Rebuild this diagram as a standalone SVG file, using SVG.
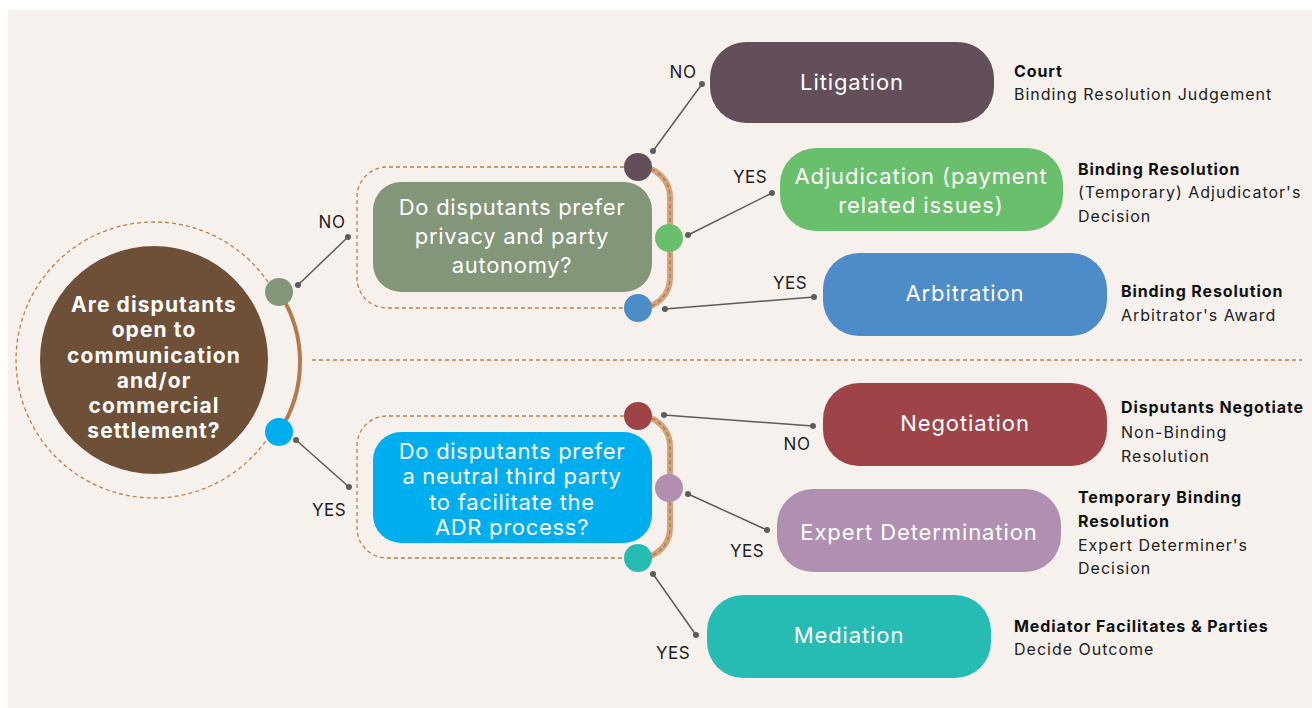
<svg xmlns="http://www.w3.org/2000/svg" width="1312" height="708" viewBox="0 0 1312 708">
<style>
text{font-family:Inter,"Open Sans","Liberation Sans",sans-serif}
.q{fill:#fff;font-size:22px;text-anchor:middle;letter-spacing:0.7px}
.m{fill:#fff;font-size:21px;font-weight:700;text-anchor:middle;letter-spacing:1.1px}
.b{fill:#fff;font-size:22px;text-anchor:middle;letter-spacing:0.9px}
.lab{fill:#1e1e1e;font-size:17px;letter-spacing:0.5px;text-anchor:middle}
.h{fill:#111;font-size:16px;font-weight:700;letter-spacing:0.9px}
.t{fill:#222;font-size:16px;letter-spacing:1px}
.dash{fill:none;stroke:#c47d48;stroke-width:1.3;stroke-dasharray:4 3}
.tan{fill:none;stroke:#d3a57c;stroke-width:6}
.tand{fill:none;stroke:#b9784a;stroke-width:1.5;stroke-dasharray:4 3}
.con{stroke:#5c5c5c;stroke-width:1.5;fill:none}
.dot{fill:#5c5c5c}
</style>
<rect x="0" y="0" width="1312" height="708" fill="#ffffff"/>
<rect x="8" y="10" width="1304" height="698" fill="#f6f1ed"/>

<g id="frames">
<path class="dash" d="M275.3,294.1 A138,138 0 1 0 275.3,425.9"/>
<path d="M279,292 A127,127 0 0 1 279,432" fill="none" stroke="#b5794c" stroke-width="4"/>
<line class="dash" x1="312" y1="360" x2="1302" y2="360"/>
<path class="dash" d="M638,167 H387 A30,30 0 0 0 357,197 V278 A30,30 0 0 0 387,308 H638"/>
<path class="tan" d="M638,167 H640 A30,30 0 0 1 670,197 V278 A30,30 0 0 1 640,308 H638"/>
<path class="tand" d="M638,167 H640 A30,30 0 0 1 670,197 V278 A30,30 0 0 1 640,308 H638"/>
<path class="dash" d="M638,416 H387 A30,30 0 0 0 357,446 V528 A30,30 0 0 0 387,558 H638"/>
<path class="tan" d="M638,416 H640 A30,30 0 0 1 670,446 V528 A30,30 0 0 1 640,558 H638"/>
<path class="tand" d="M638,416 H640 A30,30 0 0 1 670,446 V528 A30,30 0 0 1 640,558 H638"/>
</g>

<g id="connectors">
<line class="con" x1="298" y1="285" x2="348" y2="237"/><circle class="dot" cx="298" cy="285" r="3"/><circle class="dot" cx="348" cy="237" r="3"/>
<line class="con" x1="296" y1="440" x2="349" y2="487"/><circle class="dot" cx="296" cy="440" r="3"/><circle class="dot" cx="349" cy="487" r="3"/>
<line class="con" x1="653" y1="151" x2="702" y2="84"/><circle class="dot" cx="653" cy="151" r="3"/><circle class="dot" cx="702" cy="84" r="3"/>
<line class="con" x1="688" y1="235" x2="772" y2="193"/><circle class="dot" cx="688" cy="235" r="3"/><circle class="dot" cx="772" cy="193" r="3"/>
<line class="con" x1="665" y1="309" x2="814" y2="297"/><circle class="dot" cx="665" cy="309" r="3"/><circle class="dot" cx="814" cy="297" r="3"/>
<line class="con" x1="664" y1="415" x2="813" y2="426"/><circle class="dot" cx="664" cy="415" r="3"/><circle class="dot" cx="813" cy="426" r="3"/>
<line class="con" x1="688" y1="494" x2="767" y2="530"/><circle class="dot" cx="688" cy="494" r="3"/><circle class="dot" cx="767" cy="530" r="3"/>
<line class="con" x1="653" y1="574" x2="696" y2="635"/><circle class="dot" cx="653" cy="574" r="3"/><circle class="dot" cx="696" cy="635" r="3"/>
<text class="lab" x="332" y="228">NO</text>
<text class="lab" x="329" y="516">YES</text>
<text class="lab" x="683" y="78">NO</text>
<text class="lab" x="750" y="183">YES</text>
<text class="lab" x="790" y="289">YES</text>
<text class="lab" x="797" y="450">NO</text>
<text class="lab" x="747" y="557">YES</text>
<text class="lab" x="673" y="659">YES</text>
</g>

<g id="main-question">
<circle cx="154" cy="360" r="114" fill="#6e5039"/>
<text class="m" x="154" y="312">Are disputants</text>
<text class="m" x="154" y="337">open to</text>
<text class="m" x="154" y="363">communication</text>
<text class="m" x="154" y="388">and/or</text>
<text class="m" x="154" y="413">commercial</text>
<text class="m" x="154" y="438">settlement?</text>
<circle cx="279" cy="292" r="14" fill="#849679"/>
<circle cx="279" cy="432" r="14" fill="#00aeef"/>
</g>

<g id="privacy-question">
<rect x="373" y="182" width="279" height="110" rx="28" fill="#849679"/>
<text class="q" x="512" y="215">Do disputants prefer</text>
<text class="q" x="512" y="244">privacy and party</text>
<text class="q" x="512" y="273">autonomy?</text>
<circle cx="638" cy="167" r="14" fill="#634f5a"/>
<circle cx="669" cy="238" r="14" fill="#6abf6d"/>
<circle cx="638" cy="308" r="14" fill="#4e8bc9"/>
</g>

<g id="neutral-question">
<rect x="373" y="432" width="279" height="111" rx="28" fill="#00aeef"/>
<text class="q" x="512" y="459">Do disputants prefer</text>
<text class="q" x="512" y="484">a neutral third party</text>
<text class="q" x="512" y="510">to facilitate the</text>
<text class="q" x="512" y="535">ADR process?</text>
<circle cx="638" cy="416" r="14" fill="#9e4347"/>
<circle cx="669" cy="488" r="14" fill="#b18fb1"/>
<circle cx="638" cy="558" r="14" fill="#26bcb3"/>
</g>

<g id="litigation">
<rect x="710" y="42" width="284" height="81" rx="36" fill="#634f5a"/>
<text class="b" x="852" y="90">Litigation</text>
<text class="h" x="1014" y="77">Court</text>
<text class="t" x="1014" y="100">Binding Resolution Judgement</text>
</g>

<g id="adjudication">
<rect x="780" y="148" width="283" height="83" rx="36" fill="#6abf6d"/>
<text class="b" x="921" y="184">Adjudication (payment</text>
<text class="b" x="921" y="213">related issues)</text>
<text class="h" x="1078" y="175">Binding Resolution</text>
<text class="t" x="1078" y="198">(Temporary) Adjudicator's</text>
<text class="t" x="1078" y="222">Decision</text>
</g>

<g id="arbitration">
<rect x="823" y="253" width="284" height="83" rx="36" fill="#4e8bc9"/>
<text class="b" x="965" y="301">Arbitration</text>
<text class="h" x="1121" y="297">Binding Resolution</text>
<text class="t" x="1121" y="321">Arbitrator's Award</text>
</g>

<g id="negotiation">
<rect x="823" y="383" width="284" height="83" rx="36" fill="#9e4347"/>
<text class="b" x="965" y="431">Negotiation</text>
<text class="h" x="1121" y="413">Disputants Negotiate</text>
<text class="t" x="1121" y="438">Non-Binding</text>
<text class="t" x="1121" y="462">Resolution</text>
</g>

<g id="expert-determination">
<rect x="777" y="489" width="284" height="83" rx="36" fill="#b18fb1"/>
<text class="b" x="919" y="540">Expert Determination</text>
<text class="h" x="1078" y="503">Temporary Binding</text>
<text class="h" x="1078" y="527">Resolution</text>
<text class="t" x="1078" y="551">Expert Determiner's</text>
<text class="t" x="1078" y="574">Decision</text>
</g>

<g id="mediation">
<rect x="707" y="595" width="284" height="83" rx="36" fill="#26bcb3"/>
<text class="b" x="849" y="643">Mediation</text>
<text class="h" x="1014" y="632">Mediator Facilitates &amp; Parties</text>
<text class="t" x="1014" y="655">Decide Outcome</text>
</g>
</svg>
